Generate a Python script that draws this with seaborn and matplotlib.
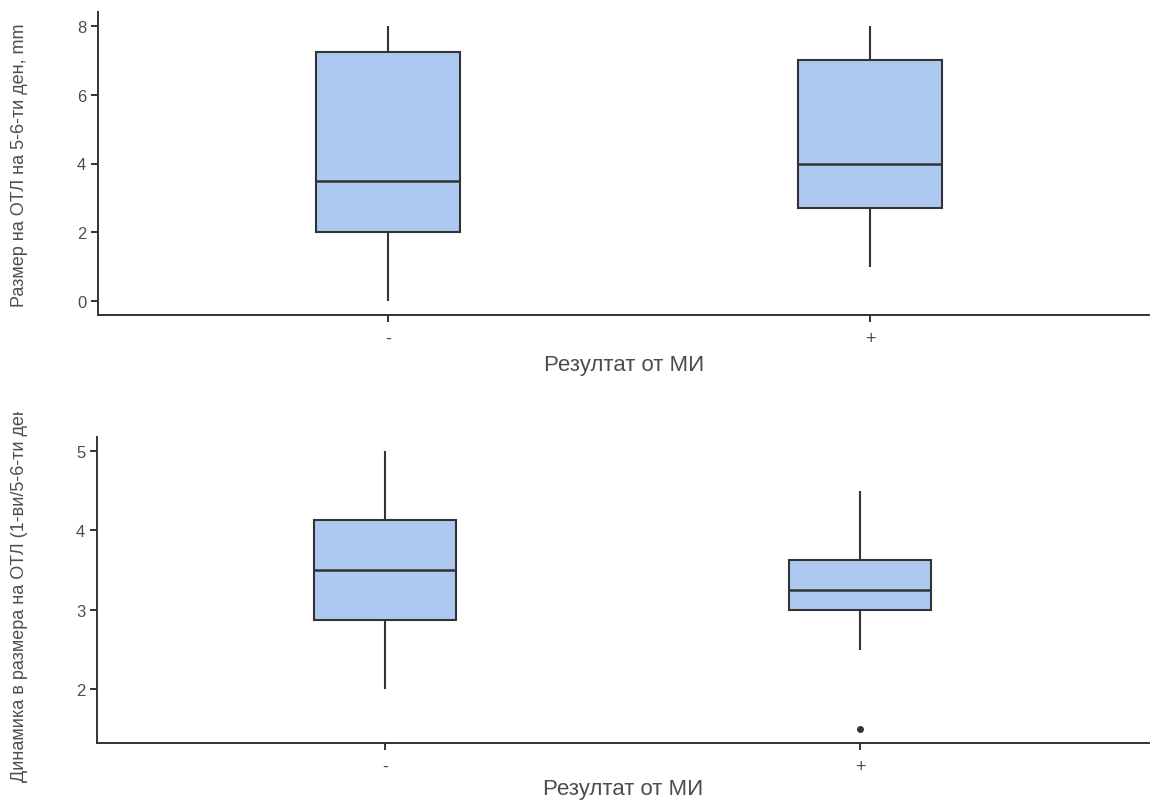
import matplotlib
matplotlib.use("Agg")
import matplotlib.pyplot as plt
import matplotlib.transforms as mtransforms
import pandas as pd
import seaborn as sns

# Groups by MI result
groups = ["-", "+"]

# Size of the lesion on day 5-6 (mm): whisker ends, quartiles, median
size_low = [0.0, 1.0]
size_q1 = [2.0, 2.7]
size_median = [3.5, 4.0]
size_q3 = [7.25, 7.0]
size_high = [8.0, 8.0]

# Change in lesion size (day 1 / day 5-6)
dyn_low = [2.0, 2.5]
dyn_q1 = [2.875, 3.0]
dyn_median = [3.5, 3.25]
dyn_q3 = [4.125, 3.625]
dyn_high = [5.0, 4.5]
dyn_outliers = [[], [1.5]]

size_ticks = [0, 2, 4, 6, 8]
dyn_ticks = [2, 3, 4, 5]

xlabel = "Резултат от МИ"
ylabel_top = "Размер на ОТЛ на 5-6-ти ден, mm"
ylabel_bottom = "Динамика в размера на ОТЛ (1-ви/5-6-ти ден)"

FILL = "#aec9f1"
EDGE = "#333333"
TEXT = "#4d4d4d"


def summary_frame(low, q1, med, q3, high):
    rows = []
    for g, vals in zip(groups, zip(low, q1, med, q3, high)):
        for v in vals:
            rows.append({"group": g, "value": v})
    return pd.DataFrame(rows)


sns.set_theme(style="ticks")
plt.rcParams["font.family"] = ["Liberation Sans", "DejaVu Sans"]

W, H = 1150, 803
fig = plt.figure(figsize=(W / 100, H / 100), dpi=100)


def px_axes(left, top, right, bottom):
    return fig.add_axes([left / W, 1 - bottom / H, (right - left) / W, (bottom - top) / H])


def style(ax, x0, x_spacing, left_px, right_px, ylim, yticks, labelpad):
    xmin = -(x0 - left_px) / x_spacing
    ax.set_xlim(xmin, xmin + (right_px - left_px) / x_spacing)
    ax.set_ylim(*ylim)
    ax.set_yticks(yticks)
    ax.set_xticks([0, 1])
    ax.set_xticklabels(groups)
    sns.despine(ax=ax)
    for s in ("left", "bottom"):
        ax.spines[s].set_color(EDGE)
        ax.spines[s].set_linewidth(1.4)
    ax.tick_params(axis="both", colors=EDGE, width=1.4, length=5,
                   labelcolor=TEXT, labelsize=12)
    ax.tick_params(axis="x", pad=6, labelsize=13)
    ax.set_xlabel(xlabel, fontsize=16, color=TEXT, labelpad=labelpad)
    ax.set_ylabel("")


box_kw = dict(
    x="group", y="value", order=groups, width=0.3, color=FILL,
    saturation=1, linecolor=EDGE, linewidth=1.5, showcaps=False, fliersize=0,
    whiskerprops=dict(color=EDGE, linewidth=1.5),
    medianprops=dict(color=EDGE, linewidth=1.8),
)

# Top panel
ax1 = px_axes(98, 13, 1150, 316)
df1 = summary_frame(size_low, size_q1, size_median, size_q3, size_high)
sns.boxplot(data=df1, ax=ax1, **box_kw)
style(ax1, 388, 482, 98, 1150, (-0.4, 8.4), size_ticks, 5)

# Bottom panel
ax2 = px_axes(97, 438, 1150, 744)
df2 = summary_frame(dyn_low, dyn_q1, dyn_median, dyn_q3, dyn_high)
sns.boxplot(data=df2, ax=ax2, **box_kw)
out = pd.DataFrame([{"group": g, "value": v}
                    for g, vals in zip(groups, dyn_outliers) for v in vals])
sns.stripplot(data=out, x="group", y="value", order=groups, jitter=False,
              color=EDGE, size=5, ax=ax2)
style(ax2, 385, 475, 97, 1150, (1.325, 5.175), dyn_ticks, 2)

# Y axis titles
fig.text(20 / W, 1 - 165 / H, ylabel_top, rotation=90, ha="center",
         va="center", fontsize=13, color=TEXT)
t = fig.text(20 / W, 1 - 591 / H, ylabel_bottom, rotation=90, ha="center",
             va="center", fontsize=13, color=TEXT)
clip = mtransforms.TransformedBbox(
    mtransforms.Bbox([[0, 0], [0.2, 1 - 413 / H]]), fig.transFigure)
t.set_clip_box(clip)
t.set_clip_on(True)

fig.savefig("out.png", dpi=100)
